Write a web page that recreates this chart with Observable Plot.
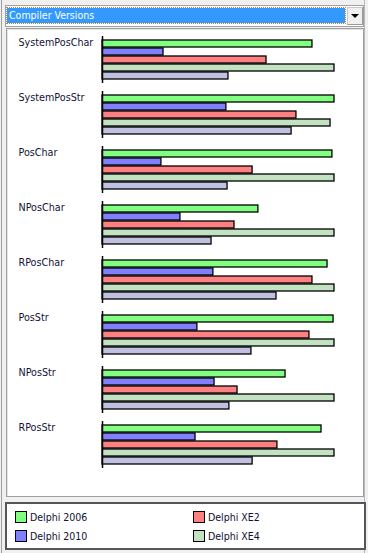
<!DOCTYPE html>
<html>
<head>
<meta charset="utf-8">
<script src="https://cdn.jsdelivr.net/npm/d3@7"></script>
<script src="https://cdn.jsdelivr.net/npm/@observablehq/plot@0.6"></script>
<style>
  html, body { margin: 0; padding: 0; }
  body { width: 368px; height: 553px; background: #f0f0f0; position: relative; overflow: hidden;
         font-family: "DejaVu Sans Condensed", "DejaVu Sans", sans-serif; }
  .frameL { position: absolute; left: 1px; top: 0; width: 1px; height: 553px; background: #a0a0a0; }
  .frameR { position: absolute; left: 364px; top: 0; width: 1px; height: 553px; background: #b8b8b8; }
  .combo { position: absolute; left: 5px; top: 5px; width: 357px; height: 20px; border: 1px solid #a0a0a0; background: #fff; }
  .sel { position: absolute; left: 1px; top: 2px; width: 338px; height: 15px; background: #3399ff;
         outline: 1px dotted #c08040; color: #fff; font-size: 10.5px; line-height: 15px; padding-left: 2px; box-sizing: border-box; }
  .btn { position: absolute; left: 341px; top: 1px; width: 14px; height: 16px; background: #f0f0f0;
         border: 1px solid #c8c8c8; border-right-color: #9a9a9a; border-bottom-color: #9a9a9a; }
  .arrow { position: absolute; left: 3px; top: 6px; width: 0; height: 0;
           border-left: 4px solid transparent; border-right: 4px solid transparent; border-top: 4px solid #000; }
  .panel { position: absolute; left: 6px; top: 28px; width: 356px; height: 467px; background: #fff;
           border: 1px solid #a0a0a0; box-shadow: inset 1px 1px 0 #e4e4e4; }
  .legend { position: absolute; left: 5px; top: 502px; width: 357px; height: 44px; background: #fff;
            border: 2px solid #55565c; }
  .item { position: absolute; font-size: 10.5px; color: #101030; line-height: 12px; white-space: nowrap; }
  .sw { position: absolute; width: 10px; height: 10px; border: 1px solid #000; }
  #chart { position: absolute; left: 0; top: 0; }
</style>
</head>
<body>
<div class="frameL"></div>
<div class="frameR"></div>
<div class="combo"><div class="sel">Compiler Versions</div><div class="btn"><div class="arrow"></div></div></div>
<div class="panel"></div>
<div id="chart"></div>
<div class="legend" id="legend"></div>
<script>
const groups = ["SystemPosChar", "SystemPosStr", "PosChar", "NPosChar", "RPosChar", "PosStr", "NPosStr", "RPosStr"];
const series = ["Delphi 2006", "Delphi 2010", "Delphi XE2", "Delphi XE4", "Delphi XE5"];
const legendSeries = ["Delphi 2006", "Delphi XE2", "Delphi 2010", "Delphi XE4"];
const colors = ["#80ff80", "#8080ff", "#ff8080", "#c2e2c2", "#c0c0e0"];

const d2006 = [90.5, 100, 99.1, 67.2, 97.0, 99.6, 78.9, 94.4];
const d2010 = [26.3, 53.4, 25.4, 33.6, 47.8, 40.9, 48.3, 40.1];
const dXE2  = [70.7, 83.6, 64.7, 56.9, 90.5, 89.2, 58.2, 75.4];
const dXE4  = [100, 98.3, 100, 100, 100, 100, 100, 100];
const dXE5  = [54.3, 81.5, 53.9, 47.0, 75.0, 64.2, 54.7, 64.7];

const valuesBySeries = [d2006, d2010, dXE2, dXE4, dXE5];
const data = [];
groups.forEach((g, gi) => series.forEach((s, si) => data.push({group: g, series: s, value: valuesBySeries[si][gi]})));

const chart = Plot.plot({
  width: 368,
  height: 500,
  marginTop: 36,
  marginBottom: 32,
  marginLeft: 102,
  marginRight: 34,
  style: {background: "transparent", fontFamily: "DejaVu Sans Condensed, DejaVu Sans, sans-serif"},
  x: {domain: [0, 100], axis: null},
  y: {domain: series, axis: null, paddingInner: 0.125, paddingOuter: 0.44},
  fy: {domain: groups, axis: null, paddingInner: 8 / 55, paddingOuter: 0},
  color: {domain: series, range: colors},
  marks: [
    Plot.barX(data, {x: "value", y: "series", fy: "group", fill: "series", stroke: "#000", strokeWidth: 1.3}),
    Plot.ruleX([0], {stroke: "#000", strokeWidth: 1.5}),
    Plot.text(groups, {fy: d => d, text: d => d, frameAnchor: "top-left", textAnchor: "start", lineAnchor: "top",
                       dx: -84, dy: 2, fontSize: 10.7, fill: "#141436"})
  ]
});
document.getElementById("chart").appendChild(chart);

const legend = document.getElementById("legend");
legendSeries.forEach((s, i) => {
  const col = i % 2, row = Math.floor(i / 2);
  const left = col === 0 ? 8 : 186;
  const top = row === 0 ? 7 : 26;
  const sw = document.createElement("div");
  sw.className = "sw";
  sw.style.left = left + "px";
  sw.style.top = top + "px";
  sw.style.background = colors[series.indexOf(s)];
  legend.appendChild(sw);
  const t = document.createElement("div");
  t.className = "item";
  t.style.left = (left + 15) + "px";
  t.style.top = top + "px";
  t.textContent = s;
  legend.appendChild(t);
});
</script>
</body>
</html>
